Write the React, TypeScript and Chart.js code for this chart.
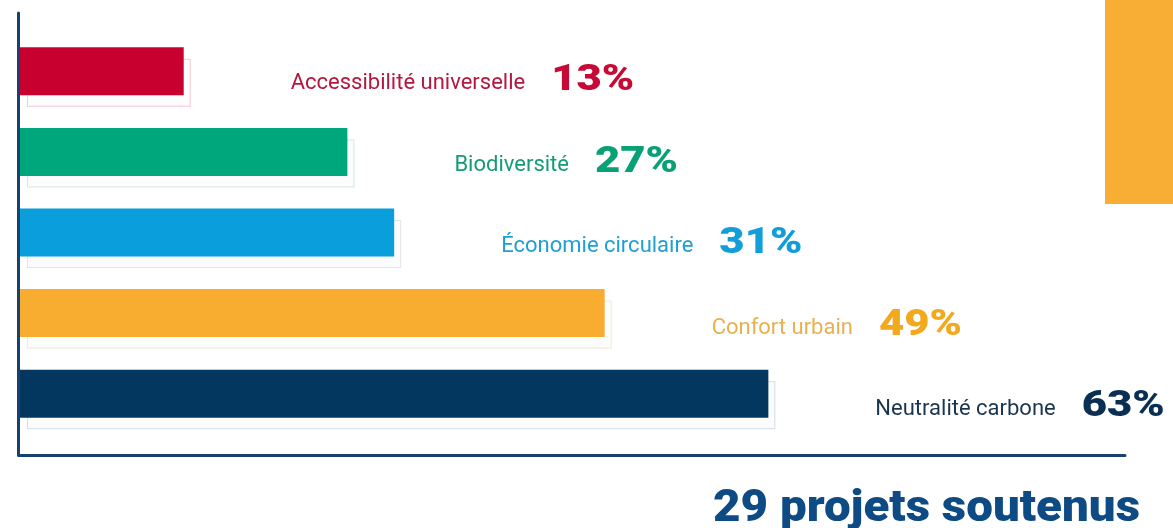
import React, { useEffect, useRef } from 'react';
import { Chart, registerables } from 'chart.js';

Chart.register(...registerables);

const categories = [
  'Accessibilité universelle',
  'Biodiversité',
  'Économie circulaire',
  'Confort urbain',
  'Neutralité carbone',
];
const shares = [13, 27, 31, 49, 63];
const barColors = ['#c8002f', '#00a67c', '#0a9edc', '#f8ad31', '#04375f'];
const labelColors = ['#b5173f', '#159c74', '#1f9fd6', '#e9b04f', '#1b3550'];
const valueColors = ['#c70a35', '#08a176', '#129ed9', '#f2a91e', '#0a2f52'];
const shadowColors = ['#f5c9d3', '#d3e8e0', '#e2e5e8', '#f3ead8', '#d5dce5'];
const footerText = '29 projets soutenus';

const decorPlugin = {
  id: 'decor',
  beforeDatasetsDraw(chart: any) {
    const { ctx } = chart;
    const meta = chart.getDatasetMeta(0);
    ctx.save();
    ctx.fillStyle = '#f8ae34';
    ctx.fillRect(chart.width - 68, 0, 68, 204);
    meta.data.forEach((bar: any, i: number) => {
      const { x, y, base, height } = bar.getProps(['x', 'y', 'base', 'height'], true);
      const dx = 7;
      const dy = 11.5;
      ctx.fillStyle = '#fcfcfc';
      ctx.fillRect(base + dx, y - height / 2 + dy, x - base, height);
      ctx.strokeStyle = shadowColors[i];
      ctx.lineWidth = 1;
      ctx.strokeRect(base + dx + 0.5, y - height / 2 + dy + 0.5, x - base - 1, height - 1);
    });
    ctx.restore();
  },
  afterDatasetsDraw(chart: any) {
    const { ctx, chartArea } = chart;
    const meta = chart.getDatasetMeta(0);
    ctx.save();
    ctx.strokeStyle = '#17426f';
    ctx.lineWidth = 3;
    ctx.lineCap = 'round';
    ctx.lineJoin = 'round';
    ctx.beginPath();
    ctx.moveTo(chartArea.left - 1.5, chartArea.top - 18);
    ctx.lineTo(chartArea.left - 1.5, chartArea.bottom + 21.5);
    ctx.lineTo(chartArea.right, chartArea.bottom + 21.5);
    ctx.stroke();

    ctx.textAlign = 'left';
    ctx.textBaseline = 'alphabetic';
    meta.data.forEach((bar: any, i: number) => {
      const { x, y } = bar.getProps(['x', 'y'], true);
      const lx = x + 107;
      const by = y + 18 + i * 0.8;
      ctx.font = '400 22px Roboto';
      ctx.fillStyle = labelColors[i];
      ctx.fillText(categories[i], lx, by);
      const w = ctx.measureText(categories[i]).width;
      const px = lx + w + 26;
      ctx.save();
      ctx.translate(px, by + 1);
      ctx.scale(1.18, 1);
      ctx.font = '900 37px Roboto';
      ctx.fillStyle = valueColors[i];
      ctx.fillText(shares[i] + '%', 0, 0);
      ctx.restore();
    });

    ctx.font = '900 44px Roboto';
    const sx = 1.08;
    const fw = ctx.measureText(footerText).width * sx;
    ctx.save();
    ctx.translate(chart.width - 33 - fw, 521);
    ctx.scale(sx, 1);
    ctx.fillStyle = '#0e4a84';
    ctx.fillText(footerText, 0, 0);
    ctx.restore();
    ctx.restore();
  },
};

export default function App() {
  const canvasRef = useRef<HTMLCanvasElement | null>(null);

  useEffect(() => {
    if (!canvasRef.current) return;
    const chart = new Chart(canvasRef.current, {
      type: 'bar',
      data: {
        labels: categories,
        datasets: [
          {
            data: shares,
            backgroundColor: barColors,
            borderWidth: 0,
            barPercentage: 1,
            categoryPercentage: 0.595,
            base: -1,
          } as any,
        ],
      },
      options: {
        indexAxis: 'y',
        responsive: true,
        maintainAspectRatio: false,
        animation: false,
        events: [],
        layout: { padding: { left: 20, right: 48, top: 31, bottom: 94 } },
        scales: {
          x: { type: 'linear', min: -1, max: 93.5, display: false },
          y: { type: 'category', display: false },
        },
        plugins: {
          legend: { display: false },
          tooltip: { enabled: false },
          title: { display: false },
        },
      },
      plugins: [decorPlugin],
    });
    return () => chart.destroy();
  }, []);

  return (
    <div
      style={{
        position: 'absolute',
        left: 0,
        top: 0,
        width: 1173,
        height: 528,
        background: '#ffffff',
      }}
    >
      <canvas ref={canvasRef} />
    </div>
  );
}
